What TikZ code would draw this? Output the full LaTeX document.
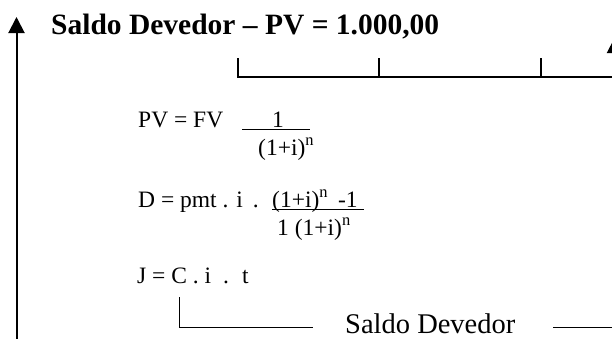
\documentclass[tikz,border=0pt]{standalone}
\usepackage{fontspec}
\setmainfont{Liberation Serif}
\usetikzlibrary{arrows.meta}
\begin{document}
\begin{tikzpicture}[x=1pt,y=-1pt,
  txt/.style={inner sep=0pt, anchor=base west},
  titletxt/.style={txt, font=\fontsize{29.5}{31}\selectfont\bfseries},
  formula/.style={txt, font=\fontsize{23.5}{26}\selectfont},
  bigtxt/.style={txt, text depth=0pt, font=\fontsize{28.5}{31}\selectfont},
  axis/.style={line width=2pt, -{Triangle[width=16pt,length=16pt]}},
  tline/.style={line width=2pt},
  thinline/.style={line width=1pt}]
\useasboundingbox (0,0) rectangle (612,338);
\clip (0,0) rectangle (612,338);
% vertical axis
\coordinate (yb) at (16.5,345);
\coordinate (yt) at (16.5,17);
\draw[axis] (yb) -- (yt);
% title
\node[titletxt] (title) at (51,34) {Saldo Devedor – PV = 1.000,00};
% timeline
\coordinate (t0) at (238,77);
\coordinate (t1) at (379,77);
\coordinate (t2) at (541,77);
\coordinate (tend) at (625,77);
\coordinate (t0u) at (238,58);
\coordinate (t1u) at (379,58);
\coordinate (t2u) at (541,58);
\draw[tline] (t0u) -- (t0) -- (tend);
\draw[tline] (t1u) -- (t1);
\draw[tline] (t2u) -- (t2);
% right arrow (mostly off the picture)
\coordinate (rb) at (615,77);
\coordinate (rt) at (615,37);
\draw[axis] (rb) -- (rt);
% PV formula
\node[formula] (pv) at (138,127) {PV = FV};
\node[formula] (one) at (272,127) {1};
\coordinate (u1a) at (242,129);
\coordinate (u1b) at (310,129);
\draw[thinline] (u1a) -- (u1b);
\node[formula] (pvden) at (258,155) {(1+i)\textsuperscript{n}};
% D formula
\node[formula] (d) at (138,207) {D = pmt . i\hspace{10pt}.};
\node[formula, text depth=0pt] (dnum) at (272,207) {(1+i)\textsuperscript{n}\hspace{10pt}-1};
\coordinate (u2a) at (272,209);
\coordinate (u2b) at (364,209);
\draw[thinline] (u2a) -- (u2b);
\node[formula, text height=18pt] (dden) at (277,235) {1 (1+i)\textsuperscript{n}};
% J formula
\node[formula] (j) at (137,283) {J = C . i\hspace{12pt}.\hspace{13pt}t};
% bracket and label
\coordinate (b0) at (179,297);
\coordinate (b1) at (179,327);
\coordinate (b2) at (313,327);
\draw[thinline] (b0) -- (b1) -- (b2);
\node[bigtxt] (sd) at (345,333) {Saldo Devedor};
\coordinate (r0) at (553,327);
\coordinate (r1) at (615,327);
\draw[thinline] (r0) -- (r1);
\end{tikzpicture}
\end{document}
